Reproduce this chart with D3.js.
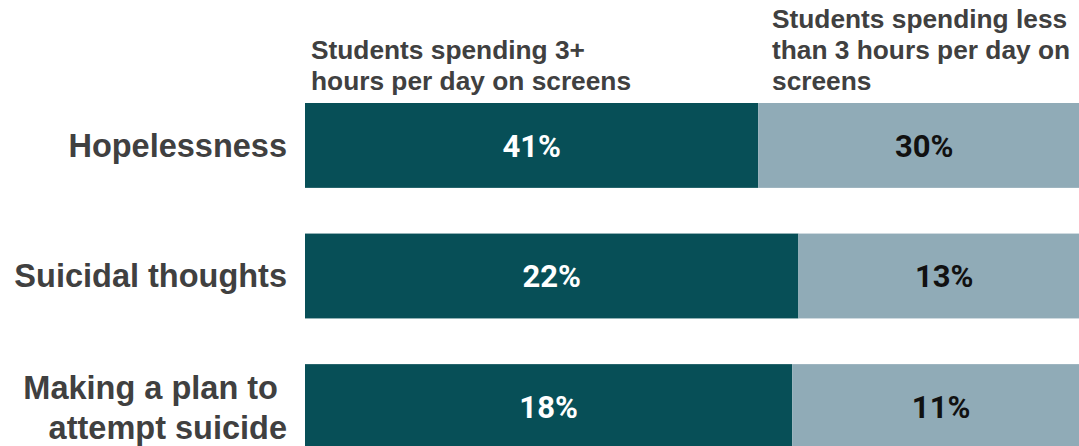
<!DOCTYPE html>
<html>
<head>
<meta charset="utf-8">
<script src="https://cdn.jsdelivr.net/npm/d3@7"></script>
<style>
  html, body { margin: 0; padding: 0; background: #fff; overflow: hidden; }
  svg { display: block; }
  text { white-space: pre; }
</style>
</head>
<body>
<svg id="chart" width="1079" height="446"></svg>
<script>
// Outcome categories (each may wrap to several lines)
const categories = [
  ["Hopelessness"],
  ["Suicidal thoughts"],
  ["Making a plan to ", "attempt suicide"]
];
// Percent of students reporting each outcome
const heavyScreen = [41, 22, 18];   // 3+ hours per day on screens
const lightScreen = [30, 13, 11];   // less than 3 hours per day
const seriesHeaders = [
  ["Students spending 3+", "hours per day on screens"],
  ["Students spending less", "than 3 hours per day on", "screens"]
];

const svg = d3.select("#chart");

const dark = "#074f57", light = "#90abb7", textGray = "#404040";

const x = d3.scaleLinear().domain([0, 1]).range([305, 1090]);
const y = d3.scaleBand()
  .domain(d3.range(categories.length))
  .range([103, 449])
  .paddingInner(0.35)
  .paddingOuter(0);

const rows = categories.map((c, i) => {
  const total = heavyScreen[i] + lightScreen[i];
  return { i, a: heavyScreen[i], b: lightScreen[i], split: heavyScreen[i] / total };
});

// Segments
const g = svg.append("g");
g.selectAll("rect.heavy").data(rows).join("rect")
  .attr("class", "heavy")
  .attr("x", x(0))
  .attr("y", d => y(d.i))
  .attr("width", d => x(d.split) - x(0))
  .attr("height", y.bandwidth())
  .attr("fill", dark);

g.selectAll("rect.light").data(rows).join("rect")
  .attr("class", "light")
  .attr("x", d => x(d.split))
  .attr("y", d => y(d.i))
  .attr("width", d => x(1) - x(d.split))
  .attr("height", y.bandwidth())
  .attr("fill", light);

// Value labels
const valFont = "Roboto, 'Liberation Sans', Arial, sans-serif";
g.selectAll("text.va").data(rows).join("text")
  .attr("x", d => (x(0) + x(d.split)) / 2)
  .attr("y", d => y(d.i) + y.bandwidth() / 2)
  .attr("dy", "0.36em")
  .attr("text-anchor", "middle")
  .attr("font-family", valFont)
  .attr("font-weight", 700)
  .attr("font-size", 31)
  .attr("fill", "#ffffff")
  .text(d => d.a + "%");

g.selectAll("text.vb").data(rows).join("text")
  .attr("x", d => (x(d.split) + x(1)) / 2)
  .attr("y", d => y(d.i) + y.bandwidth() / 2)
  .attr("dy", "0.36em")
  .attr("text-anchor", "middle")
  .attr("font-family", valFont)
  .attr("font-weight", 700)
  .attr("font-size", 31)
  .attr("fill", "#111111")
  .text(d => d.b + "%");

// Category labels, right aligned before the bars
const labFont = "'Liberation Sans', Arial, sans-serif";
const catLines = 39.5;
g.selectAll("text.cat").data(rows).join("text")
  .attr("class", "cat")
  .attr("text-anchor", "end")
  .attr("font-family", labFont)
  .attr("font-weight", 700)
  .attr("font-size", 32.5)
  .attr("fill", textGray)
  .each(function(d) {
    const lines = categories[d.i];
    const cy = y(d.i) + y.bandwidth() / 2 + (lines.length > 1 ? 1 : 0);
    const first = cy - (lines.length - 1) * catLines / 2;
    d3.select(this).selectAll("tspan").data(lines).join("tspan")
      .attr("x", 287)
      .attr("y", (l, k) => first + k * catLines)
      .attr("dy", "0.35em")
      .text(l => l);
  });

// Series headers, bottom-aligned above the first bar
const hdrLine = 31;
const hdrBottom = 90;
const hdrX = [311, 772];
seriesHeaders.forEach((lines, s) => {
  const t = svg.append("text")
    .attr("font-family", labFont)
    .attr("font-weight", 700)
    .attr("font-size", 26.3)
    .attr("fill", textGray);
  lines.forEach((l, k) => {
    t.append("tspan")
      .attr("x", hdrX[s])
      .attr("y", hdrBottom - (lines.length - 1 - k) * hdrLine)
      .text(l);
  });
});
</script>
</body>
</html>
